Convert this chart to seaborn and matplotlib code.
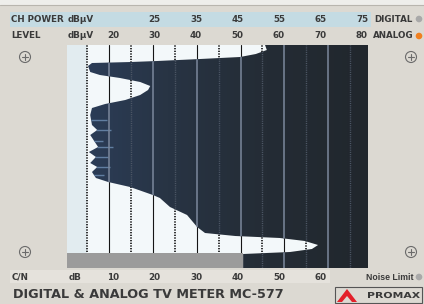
import matplotlib
matplotlib.use("Agg")
import matplotlib.pyplot as plt
import numpy as np
import seaborn as sns
from matplotlib.colors import LinearSegmentedColormap
from matplotlib.patches import Rectangle, Circle, Polygon, PathPatch
from matplotlib.textpath import TextPath
from matplotlib.font_manager import FontProperties
from matplotlib.transforms import Affine2D

# scale labels around the screen
ch_power_ticks = [25, 35, 45, 55, 65, 75]   # CH POWER = LEVEL - 5
level_ticks = [20, 30, 40, 50, 60, 70, 80]
cn_ticks = [10, 20, 30, 40, 50, 60]          # C/N = LEVEL - 10

# graticule of the screen (dBuV)
solid_lines = [20, 30, 40, 50, 60, 70]
dotted_lines = [15, 25, 35, 45, 55, 65, 75]

# noise limit bar, C/N dB
cn_noise = 40.6

# left edge (dBuV) of the dark trace for each screen row
edge_rows = [0, 5, 9, 12, 14, 16, 17, 18, 21, 27, 30, 33, 37, 41, 45, 50, 55, 59, 63,
             70, 80, 85, 90, 102, 107, 112, 118, 122, 127, 133, 137, 142, 150, 153,
             162, 170, 182, 188, 191, 193, 196, 200, 204, 207, 209, 223]
edge_level = [55.6, 56.0, 53.5, 49.9, 40.8, 31.0, 25.0, 16.1, 15.2, 15.7, 17.9, 22.5,
              27.1, 29.4, 28.9, 27.1, 23.7, 19.1, 16.1, 15.7, 16.1, 17.3, 15.7, 17.5,
              15.4, 17.0, 15.7, 17.3, 16.1, 17.0, 19.8, 24.8, 30.0, 31.6, 33.9, 37.8,
              40.1, 41.9, 48.8, 59.0, 64.7, 67.7, 66.3, 61.3, 50.6, 50.6]

# light streaks inside the noisy part of the trace
streak_rows = [75, 85, 96, 102, 112, 122, 130]
streak_start = [15.9, 17.0, 16.0, 17.2, 16.8, 17.0, 16.3]
streak_end = [19.5, 20.5, 18.6, 21.0, 19.8, 20.2, 18.8]

W, H = 424, 304
sns.set_style("white")
plt.rcParams['font.family'] = ['DejaVu Sans']

bg = '#dcd9d2'
txt = '#3a3a3a'
small = dict(fontsize=6.3, weight='bold', color=txt, va='center')

fig = plt.figure(figsize=(W / 100, H / 100), dpi=100, facecolor=bg)

# panel decoration, pixel units
deco = fig.add_axes([0, 0, 1, 1])
deco.set_xlim(0, W)
deco.set_ylim(H, 0)
deco.axis('off')
deco.add_patch(Rectangle((0, 0), W, 5, color='#eeeeeb', lw=0))
deco.axhline(5, color='#b8b5ae', lw=0.8)
deco.add_patch(Rectangle((10, 12), 361, 15, color='#c4dbe3', lw=0))
deco.add_patch(Rectangle((10, 270), 320, 13, color='#e5e2dc', lw=0))
for cx, cy in [(25, 57), (411, 57), (25, 252), (411, 252)]:
    deco.add_patch(Circle((cx, cy), 5.5, fill=False, ec='#6b6b6b', lw=0.8))
    deco.plot([cx - 3, cx + 3], [cy, cy], color='#6b6b6b', lw=0.8)
    deco.plot([cx, cx], [cy - 3, cy + 3], color='#6b6b6b', lw=0.8)
for cy, c in [(19, '#a9a9a9'), (36, '#f08020'), (277, '#a9a9a9')]:
    deco.add_patch(Circle((419, cy), 3.3, color=c, lw=0))

deco.text(11, 19, "CH POWER", **small)
deco.text(68, 19, "dBµV", **small)
deco.text(11, 36, "LEVEL", **small)
deco.text(68, 36, "dBµV", **small)
deco.text(374, 19, "DIGITAL", **small)
deco.text(373, 36, "ANALOG", **small)
deco.text(12, 277, "C/N", **small)
deco.text(75, 277, "dB", ha='center', **small)
deco.text(366, 277, "Noise Limit", fontsize=6.3, weight='bold', color=txt, va='center',
          family=['Liberation Sans', 'DejaVu Sans'])
deco.text(13, 295, "DIGITAL & ANALOG TV METER MC-577", fontsize=9.2, weight='bold',
          color=txt, va='center')

# PROMAX logo
deco.add_patch(Rectangle((335, 287), 87, 16, fill=False, ec='#555555', lw=0.8))
deco.add_patch(Polygon([(337, 302), (347, 289), (357, 302)], color='#e3202a', lw=0))
deco.add_patch(Polygon([(342, 302), (347, 296), (352, 302)], color=bg, lw=0))
tp = TextPath((0, 0), "PROMAX", size=1, prop=FontProperties(family='DejaVu Sans', weight='bold'))
tr = Affine2D().scale(53 / 4.88, -6 / 0.729).translate(367, 298) + deco.transData
deco.add_patch(PathPatch(tp, transform=tr, color=txt, lw=0))

# the screen, x in dBuV, y in rows
x_min, x_max = 10.4, 79.1
scr = fig.add_axes([67 / W, 1 - 268 / H, (368 - 67) / W, (268 - 45) / H])
scr.set_facecolor('#f3f8fa')
scr.set_xticks([])
scr.set_yticks([])
for s in scr.spines.values():
    s.set_visible(False)
scr.axvspan(x_min, dotted_lines[0], color='#e2ecf0', lw=0, zorder=0)

dark = scr.fill_betweenx(edge_rows, edge_level, x_max, color='none', lw=0)
dark_path = dark.get_paths()[0]
cmap = LinearSegmentedColormap.from_list('trace', ['#2c3f5c', '#283444', '#242c35', '#21272d'])
grad = np.linspace(0, 1, 256)[None, :]
im = scr.imshow(grad, extent=[x_min, x_max, 223, 0], aspect='auto', cmap=cmap, zorder=2)
im.set_clip_path(dark_path, scr.transData)

streaks = scr.hlines(streak_rows, streak_start, streak_end, color='#6f90b5', lw=1.0,
                     alpha=0.8, zorder=2.5)
streaks.set_clip_path(dark_path, scr.transData)

for v in solid_lines:
    scr.axvline(v, color='#151515', lw=0.8, zorder=1)
    ln = scr.axvline(v, color='#7b889c', lw=1.1, zorder=3)
    ln.set_clip_path(dark_path, scr.transData)
for v in dotted_lines:
    scr.axvline(v, color='#111111', lw=1.2, ls=(0, (0.8, 0.8)), zorder=1)
    ln = scr.axvline(v, color='#4d5766', lw=1.0, ls=(0, (0.8, 0.8)), zorder=3)
    ln.set_clip_path(dark_path, scr.transData)

scr.barh(215.5, cn_noise + 10 - x_min, left=x_min, height=15, color='#9b9b9b', lw=0, zorder=5)
scr.set_xlim(x_min, x_max)
scr.set_ylim(223, 0)

# scale numbers, x in label dBuV
lab = fig.add_axes([0, 0, 1, 1])
lab.set_xlim(-7.23, 94.94)
lab.set_ylim(H, 0)
lab.axis('off')
for v in ch_power_ticks:
    lab.text(v + 5, 19, str(v), ha='center', **small)
for v in level_ticks:
    lab.text(v, 36, str(v), ha='center', **small)
for v in cn_ticks:
    lab.text(v + 10, 277, str(v), ha='center', **small)

fig.savefig('out.png', dpi=100, facecolor=bg)
